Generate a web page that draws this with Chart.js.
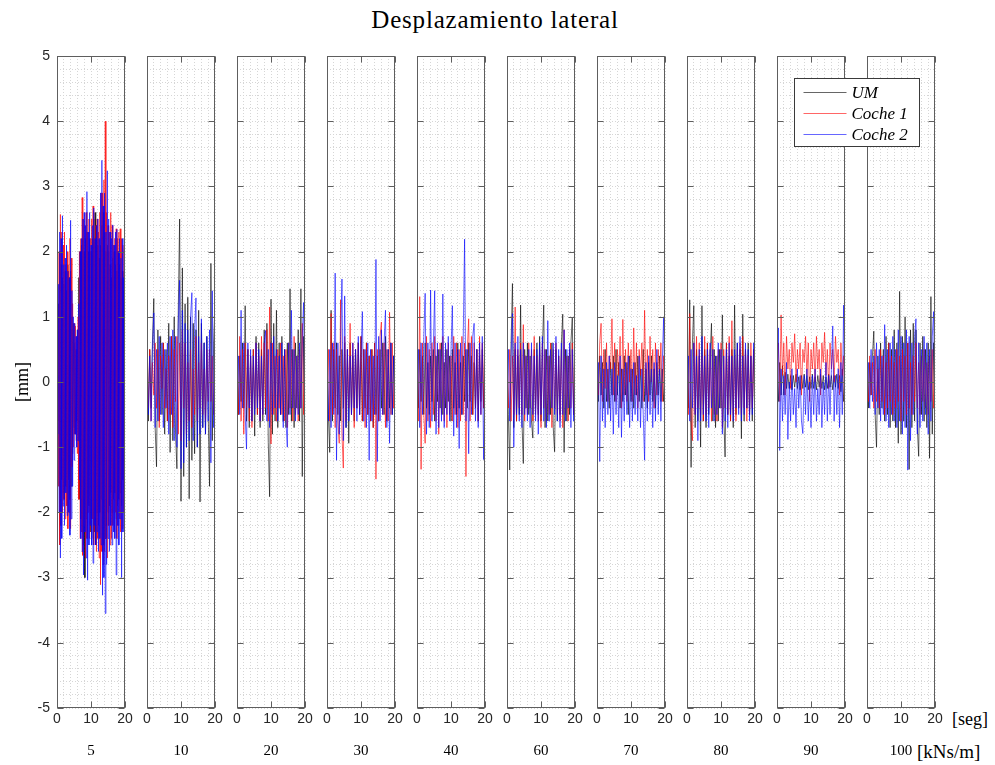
<!DOCTYPE html>
<html>
<head>
<meta charset="utf-8">
<title>Desplazamiento lateral</title>
<script src="https://cdn.jsdelivr.net/npm/chart.js@4.4.0/dist/chart.umd.min.js"></script>
<style>
  body { margin: 0; background: #fff; width: 995px; height: 765px; position: relative; overflow: hidden; }
  canvas { position: absolute; top: 40px; }
  .txt { position: absolute; font-family: "Liberation Serif", "Times New Roman", serif; color: #000; white-space: nowrap; line-height: 1; }
</style>
</head>
<body>
<div class="txt" id="titulo" style="left:0; width:990px; top:7px; text-align:center; font-size:25px; letter-spacing:0.8px;">Desplazamiento lateral</div>
<div class="txt" style="left:952px; top:710px; font-size:18px;">[seg]</div>
<div class="txt" style="left:917px; top:742px; font-size:19px;">[kNs/m]</div>
<div id="paneles"></div>

<script>
// tiempo de simulacion [seg]
const tiempo = [0, 0.4, 0.8, 1.2, 1.6, 2, 2.4, 2.8, 3.2, 3.6,
  4, 4.4, 4.8, 5.2, 5.6, 6, 6.4, 6.8, 7.2, 7.6,
  8, 8.4, 8.8, 9.2, 9.6, 10, 10.4, 10.8, 11.2, 11.6,
  12, 12.4, 12.8, 13.2, 13.6, 14, 14.4, 14.8, 15.2, 15.6,
  16, 16.4, 16.8, 17.2, 17.6, 18, 18.4, 18.8, 19.2, 19.6, 20];

// el caso c = 5 se guardo con paso mas fino
const tiempo_fino = [0, 0.2, 0.4, 0.6, 0.8, 1, 1.2, 1.4, 1.6, 1.8,
  2, 2.2, 2.4, 2.6, 2.8, 3, 3.2, 3.4, 3.6, 3.8,
  4, 4.2, 4.4, 4.6, 4.8, 5, 5.2, 5.4, 5.6, 5.8,
  6, 6.2, 6.4, 6.6, 6.8, 7, 7.2, 7.4, 7.6, 7.8,
  8, 8.2, 8.4, 8.6, 8.8, 9, 9.2, 9.4, 9.6, 9.8,
  10, 10.2, 10.4, 10.6, 10.8, 11, 11.2, 11.4, 11.6, 11.8,
  12, 12.2, 12.4, 12.6, 12.8, 13, 13.2, 13.4, 13.6, 13.8,
  14, 14.2, 14.4, 14.6, 14.8, 15, 15.2, 15.4, 15.6, 15.8,
  16, 16.2, 16.4, 16.6, 16.8, 17, 17.2, 17.4, 17.6, 17.8,
  18, 18.2, 18.4, 18.6, 18.8, 19, 19.2, 19.4, 19.6, 19.8, 20];

// amortiguamiento lateral de cada caso [kNs/m]
const rigidez = ['5', '10', '20', '30', '40', '60', '70', '80', '90', '100'];
const nombres = ['UM', 'Coche 1', 'Coche 2'];

// desplazamiento lateral [mm], c = 5
const um_5 = [0.0, -0.6, 1.2, -1.6, 2.0, -2.2, 1.8, -1.5, 1.6, -1.7,
  1.5, -1.8, 1.7, -1.6, 1.4, -1.9, 1.8, -1.5, 1.6, -1.8,
  1.7, -1.6, 1.0, -1.1, 0.9, -0.7, 0.6, -0.8, 0.5, -0.6,
  0.8, -0.9, 1.6, -1.8, 2.0, -2.1, 2.1, -2.3, 2.2, -2.5,
  2.0, -3.0, 2.2, -2.1, 2.3, -2.4, 2.0, -1.9, 2.2, -2.3,
  2.0, -2.1, 2.2, -2.4, 2.5, -2.3, 2.6, -2.5, 2.4, -2.0,
  2.1, -2.2, 1.9, -2.0, 2.1, -1.8, 2.4, -2.6, 2.6, -2.5,
  2.3, -2.4, 2.0, -2.2, 2.1, -2.0, 2.0, -1.9, 1.8, -1.7,
  1.6, -2.0, 1.9, -1.8, 2.0, -1.7, 1.8, -2.1, 1.7, -1.9,
  2.0, -1.8, 1.8, -1.7, 1.6, -1.9, 1.7, -1.5, 1.4, -1.3, -1.2];
const c1_5 = [-0.2, 0.9, -1.6, 2.0, -2.5, 2.57, -2.2, 2.3, -2.0, 2.1,
  -1.8, 2.3, -2.1, 1.8, -1.9, 2.0, -2.25, 1.7, -2.0, 2.2,
  -2.25, 1.9, -1.3, 1.2, -1.0, 0.9, -0.8, 0.86, -0.9, 0.7,
  -1.1, 1.0, -1.8, 2.0, -2.4, 2.2, -2.3, 2.83, -2.66, 2.5,
  -2.2, 2.4, -2.7, 2.6, -2.4, 2.3, -2.0, 2.5, -2.4, 2.2,
  -2.3, 2.5, -2.1, 2.7, -2.5, 2.2, -2.3, 2.4, -2.6, 2.5,
  -2.4, 2.3, -2.7, 2.6, -3.11, 2.9, -2.6, 2.9, -2.8, 3.1,
  -2.6, 4.0, -2.4, 2.6, -2.7, 2.4, -2.2, 2.3, -2.5, 2.6,
  -2.4, 2.4, -2.2, 2.1, -2.3, 2.2, -2.0, 2.35, -2.4, 2.2,
  -2.2, 2.3, -2.1, 2.35, -2.3, 2.2, -2.25, 2.1, -2.0, 2.05, -1.8];
const c2_5 = [0.1, -0.8, 1.5, -2.0, 2.3, -2.7, 2.2, -2.4, 2.55, -1.9,
  1.8, -2.2, 1.9, -1.7, 2.1, -2.05, 1.7, -2.0, 1.6, -2.35,
  2.48, -2.1, 1.4, -1.6, 1.0, -1.2, 0.9, -0.8, 0.7, -1.0,
  0.8, -0.9, 1.2, -1.5, 2.0, -2.4, 2.2, -2.6, 2.5, -2.96,
  2.6, -2.3, 2.4, -2.7, 2.92, -3.04, 2.3, -2.5, 2.6, -2.2,
  2.1, -2.5, 2.4, -2.78, 2.67, -2.2, 2.2, -2.5, 2.4, -2.3,
  2.5, -2.6, 2.2, -2.4, 2.9, -2.5, 3.4, -3.27, 2.7, -3.0,
  2.9, -3.55, 2.3, -2.8, 3.24, -2.4, 2.5, -2.6, 2.3, -2.2,
  2.2, -2.5, 2.41, -2.3, 2.1, -2.4, 2.3, -2.96, 2.34, -2.2,
  2.0, -2.5, 2.2, -2.1, 1.9, -3.0, 2.2, -2.3, 1.6, -1.65, 1.4];

// c = 10
const um_10 = [0.7, -0.6, 0.5, -0.4, 0.6, 1.28, -0.7, -1.3, 0.8, -0.6,
  0.7, -0.5, 0.6, -0.8, 0.5, -0.6, 0.9, -1.08, 0.7, -0.9,
  1.0, -0.8, -1.33, 1.1, 2.5, -1.83, 1.75, -1.45, 1.2, -1.0,
  1.3, -1.79, 1.0, -1.2, 0.9, -1.1, 0.8, -1.0, 1.1, -1.84,
  0.9, -0.7, 0.6, -0.8, 0.7, -0.5, -1.6, 1.82, -0.9, 0.6, 1.2];
const c1_10 = [0.2, -0.4, 0.5, -0.6, 0.3, -0.2, 0.6, -0.4, 0.5, -0.7,
  0.4, -0.1, 0.6, -0.4, 0.2, -0.6, 0.4, -0.5, 0.7, -0.7,
  0.5, -0.3, 0.7, -0.8, 0.6, -0.9, 0.8, -0.4, 0.6, -0.8,
  0.3, -0.6, 0.5, -0.7, 0.2, -0.5, 0.7, -0.6, 0.3, -0.4,
  0.6, -0.5, 0.2, -0.6, 0.5, -0.3, 0.5, -0.3, 0.4, -0.5, 0.3];
const c2_10 = [0.3, -0.5, 0.4, -0.6, 0.5, 1.06, -0.7, 0.5, -0.6, 0.7,
  -0.5, 0.6, -0.7, 0.5, -0.4, 0.6, -0.8, 0.7, -0.5, 0.8,
  -0.9, 0.7, -1.0, 0.9, 1.56, -1.33, 1.1, -1.24, 0.9, -1.0,
  0.8, -0.9, 1.0, 1.37, -0.9, 0.8, 1.29, -1.0, 0.7, -0.8,
  0.97, -0.7, 0.6, -0.8, 0.7, -0.6, 0.8, -1.24, 1.4, -0.7, 0.9];

// c = 20
const um_20 = [0.3, -0.5, 0.4, -0.3, 0.6, -0.4, 1.17, -0.6, 0.5, -0.7,
  0.4, -0.6, 0.5, -0.83, 0.7, -0.5, 0.6, -0.7, 0.5, -0.6,
  0.8, -0.5, 0.9, -0.93, -1.76, 1.27, -0.8, 0.9, -0.6, 1.1,
  -0.7, 0.6, -0.5, 0.7, -0.6, 0.5, -0.7, 0.6, -0.5, 1.43,
  -0.6, 0.5, -0.7, 0.6, -0.4, 0.8, -0.6, 1.43, -1.45, 0.7, -0.5];
const c1_20 = [0.3, -0.5, 0.7, -0.6, 0.5, -0.8, 0.6, -0.4, 0.5, -0.6,
  0.4, -0.7, 0.5, -0.4, 0.6, -0.5, 0.4, -0.6, 0.7, -0.5,
  0.6, -0.4, 0.8, -0.6, 1.15, -0.95, 0.6, -0.5, 0.4, -0.6,
  0.5, -0.4, 0.6, -0.5, 0.4, -0.6, 0.5, -0.7, 0.6, -0.4,
  0.5, -0.6, 0.7, -0.5, 0.4, -0.6, 0.5, -0.4, 0.9, -0.5, 0.6];
const c2_20 = [-0.2, 0.4, -0.5, 1.1, -0.4, 0.6, -0.5, -1.03, 0.6, -0.4,
  0.5, -0.6, 0.4, -0.5, 0.6, -0.4, 0.5, -0.6, 0.4, -0.5,
  0.6, 0.79, -0.6, 0.5, -0.7, 0.6, -0.5, 0.7, -0.4, 0.5,
  -0.6, 0.4, -0.5, 0.6, -0.7, 0.5, -0.6, -1.0, 0.6, -0.5,
  1.1, -0.4, 0.5, -0.6, 0.4, -0.5, 0.6, -0.4, 0.7, 1.22, -1.07];

// c = 30
const um_30 = [0.4, -0.5, -1.08, 1.1, -0.6, 0.5, -0.4, 0.6, -0.5, 0.4,
  -0.6, 0.5, -0.4, 0.6, -0.7, 0.5, -0.94, 0.6, -0.5, 0.4,
  -0.6, 0.5, -0.4, 0.6, -0.5, 0.7, -0.6, 0.5, -0.4, 0.6,
  -0.5, 0.4, -0.6, 0.5, -0.7, 0.6, -0.5, 0.4, -0.6, 0.5,
  -0.4, 0.6, -0.5, 0.7, -0.6, 0.5, -0.4, 0.6, -0.5, 0.4, -0.3];
const c1_30 = [-0.2, 0.5, -0.6, 1.05, -0.5, 0.6, -0.7, 0.5, -0.6, -0.94,
  1.26, -0.8, -1.32, 0.7, -0.6, 0.5, -0.4, 0.9, -0.5, 0.6,
  -0.7, 0.5, -0.4, 0.6, -0.5, 0.7, -0.6, 0.5, -0.7, 0.6,
  -0.5, 0.4, -0.6, 0.5, -0.7, 0.6, -1.49, 0.5, -0.6, 0.7,
  0.92, -0.5, 0.6, -0.7, 0.5, -0.6, 1.07, -0.5, 0.6, -0.4, 0.3];
const c2_30 = [0.2, -0.6, 0.5, -0.7, 0.6, -0.5, 1.67, -1.2, 0.6, -0.8,
  0.7, 1.58, -0.9, 1.32, -0.7, 0.5, -0.6, 0.4, -0.5, 0.6,
  -0.4, 0.5, -0.6, 0.7, -0.5, 0.4, 1.08, -0.6, 0.5, -0.7,
  0.6, -1.2, 0.5, -0.6, 0.4, -0.5, 1.88, -1.22, 0.7, -0.6,
  0.8, -0.5, 0.6, 1.1, -0.7, 0.5, -0.94, 0.6, -0.5, 0.4, -0.3];

// c = 40
const um_40 = [0.3, -0.4, 0.5, -0.3, 0.4, -0.5, 0.6, -0.4, 0.3, -0.5,
  0.4, -0.3, 0.5, -0.6, 0.4, -0.3, 0.5, -0.4, 0.6, -0.5,
  0.3, -0.4, 0.5, -0.3, 0.4, -0.6, 0.5, -0.4, 0.3, -0.5,
  0.6, -0.4, 0.3, -0.5, 0.4, -0.3, 0.5, -0.4, 0.6, -0.3,
  0.4, -0.5, 0.3, -0.4, 0.5, -0.6, 0.4, -0.3, 0.5, -0.4, 0.3];
const c1_40 = [0.2, -0.6, 1.31, -1.34, 0.6, -0.5, -0.94, 0.7, -0.6, 0.5,
  -0.7, 0.6, -0.5, 0.7, -0.6, 0.5, -0.8, 0.6, -0.5, 0.7,
  -0.6, 0.5, -0.7, 0.6, -0.5, 0.4, -0.6, 0.7, -0.5, 0.6,
  -0.7, 0.5, -0.6, 0.7, -0.5, 0.6, -1.45, 0.5, 0.97, -0.6,
  0.7, -0.5, 0.6, -0.4, 0.5, -0.6, 0.7, -0.5, 0.6, -0.4, 1.29];
const c2_40 = [-0.1, 0.5, -0.7, 0.6, -0.5, 0.7, 1.36, -0.8, 0.6, -0.7,
  1.41, -0.6, 0.5, 1.4, -0.8, 0.6, -0.7, 0.5, -0.6, 1.35,
  -0.7, 0.6, -0.5, 0.7, -0.6, 0.5, 1.17, -0.83, 0.6, -0.7,
  0.5, -1.02, 0.6, -0.5, 0.7, 2.19, -0.6, 0.5, -1.1, 0.6,
  -0.5, 0.7, 0.9, -0.6, 0.5, -0.7, 0.6, -0.5, 0.7, -1.19, 0.4];

// c = 60
const um_60 = [0.3, -0.5, -1.35, 0.6, 1.51, -0.7, 0.5, -0.6, 0.4, -0.5,
  1.18, -0.6, -1.25, 0.5, -0.4, 0.6, -0.5, 0.4, -0.6, -0.86,
  0.5, -0.4, 0.6, -0.5, 0.7, -0.6, 0.5, 1.18, -0.7, 0.5,
  -0.6, 0.4, -0.5, 0.6, -0.7, -1.07, 0.5, -0.6, 0.4, -0.5,
  0.6, 1.04, -1.08, 0.5, -0.6, 0.4, -0.5, 0.6, 0.98, -0.5, 0.3];
const c1_60 = [0.1, -0.4, 0.5, -0.6, 0.4, -0.5, 1.15, -0.6, 0.5, -0.4,
  0.6, -0.5, 0.88, -0.6, 0.4, -0.5, 0.6, -0.4, 0.5, -0.6,
  0.7, -0.5, 0.4, -0.6, 0.5, -0.7, 0.6, -0.4, 0.5, -0.6,
  0.4, -0.5, 0.6, -0.7, 0.5, -0.4, 0.6, -0.5, 0.4, -0.6,
  0.5, -0.7, 0.8, -0.5, 0.4, -0.6, 0.5, -0.4, 0.6, -0.5, 0.7];
const c2_60 = [-0.2, 0.5, -0.6, 0.4, 1.05, -1.0, 0.6, -0.5, 0.7, -0.6,
  0.5, -0.7, 0.6, -0.5, 0.4, -0.6, 0.5, -0.7, 0.6, -0.5,
  0.4, -0.6, 0.5, -0.8, 0.6, -0.5, 0.7, -0.6, 0.5, -0.7,
  0.94, -0.6, 0.5, -0.4, 0.6, -0.5, 0.7, -0.6, 0.5, -0.7,
  0.6, -0.5, 0.8, -0.6, 0.5, -0.4, 0.6, -0.7, 0.5, -0.6, 0.4];

// c = 70
const um_70 = [0.2, -0.3, 0.4, -0.2, 0.3, -0.4, 0.5, -0.3, 0.2, -0.4,
  0.3, -0.2, 0.4, -0.3, 0.5, -0.2, 0.3, -0.4, 0.2, -0.3,
  0.4, -0.2, 0.3, -0.5, 0.4, -0.3, 0.2, -0.4, 0.3, -0.2,
  0.4, -0.3, 0.2, -0.4, 0.5, -0.3, 0.2, -0.4, 0.3, -0.2,
  0.4, -0.3, 0.2, -0.4, 0.3, -0.2, 0.4, -0.3, 0.2, -0.3, 0.1];
const c1_70 = [0.3, -0.2, 0.6, 0.9, -0.3, 0.5, -0.1, 0.6, -0.3, 0.4,
  0.2, 0.97, -0.2, 0.6, -0.3, 0.5, 0.1, 0.7, -0.4, 0.96,
  -0.2, 0.5, -0.3, 0.6, 0.0, 0.5, -0.3, 0.83, -0.2, 0.6,
  -0.4, 0.5, 0.1, 0.6, -0.3, 1.1, -0.2, 0.5, -0.3, 0.7,
  0.0, 0.5, -0.4, 0.6, -0.2, 0.5, 0.1, 0.6, -0.3, 0.4, -0.93];
const c2_70 = [-0.1, 0.3, -1.22, 0.4, -0.6, 0.2, -0.7, 0.3, -0.5, 0.4,
  -0.6, 0.2, -0.8, 0.3, -0.5, 0.1, -0.7, 0.4, -0.85, 0.2,
  -0.6, 0.3, -0.5, 0.4, -0.7, 0.2, -0.6, 0.3, -0.5, 0.1,
  -0.6, 0.4, -0.7, 0.2, -0.5, -1.2, 0.3, -0.6, 0.4, -0.5,
  0.2, -0.7, 0.3, -0.6, 0.5, -0.5, 0.2, -0.6, 0.3, 0.98, -0.4];

// c = 80
const um_80 = [0.1, -0.4, 1.26, -1.31, 0.6, 1.17, -0.7, 0.5, -0.6, 0.4,
  -1.0, 1.17, -0.6, 0.5, -0.7, 0.6, -0.5, 0.4, 0.9, -0.6,
  0.5, -0.7, 0.4, -0.6, 0.5, -0.4, 1.03, -0.5, -1.15, 0.6,
  -0.5, 0.4, -0.6, 0.5, -0.7, 1.18, -0.5, 0.6, -0.4, 0.5,
  -0.87, 1.04, -0.6, 0.5, -0.4, 0.6, -0.5, 0.4, -0.6, 0.5, -0.3];
const c1_80 = [0.2, -0.5, 1.05, -0.6, -0.9, 0.6, -0.5, 0.7, -0.4, 0.6,
  -0.5, 0.4, -0.6, 0.7, -0.5, 0.6, -0.4, 0.5, -0.6, 0.7,
  -0.5, 0.4, -0.6, 0.5, -0.4, 0.6, -0.7, 0.5, -0.4, 0.6,
  -0.5, 0.7, -0.6, 0.94, -0.5, 0.4, -0.6, 0.5, -0.4, 0.6,
  -0.5, 0.7, -0.4, 0.5, -0.6, 0.4, -0.5, 0.6, -0.4, 0.5, -0.8];
const c2_80 = [-0.1, 0.4, -0.6, 0.5, -0.4, 0.6, -0.5, 0.4, -0.9, 0.5,
  -0.6, 0.7, -0.5, 0.4, -0.6, 0.5, -0.7, 0.6, -0.4, 0.5,
  -0.6, 0.4, -0.5, 0.6, -0.4, 0.5, -0.8, 0.4, -0.6, 0.5,
  -0.7, 0.6, -0.5, 0.4, -0.6, 0.5, -0.4, 0.6, -0.5, 0.7,
  -0.6, 0.4, -0.5, 0.6, -0.4, 0.5, -0.6, 0.4, -0.5, 0.6, -0.3];

// c = 90
const um_90 = [0.2, -0.3, 0.3, -0.2, 0.25, -0.2, 0.15, -0.1, 0.12, -0.1,
  0.1, -0.12, 0.1, -0.08, 0.12, -0.1, 0.08, -0.12, 0.1, -0.1,
  0.12, -0.08, 0.1, -0.12, 0.08, -0.1, 0.12, -0.1, 0.08, -0.12,
  0.1, -0.08, 0.12, -0.1, 0.1, -0.12, 0.08, -0.1, 0.12, -0.08,
  0.1, -0.12, 0.1, -0.08, 0.12, -0.1, 0.1, -0.15, 0.2, -0.3, 0.1];
const c1_90 = [0.2, 0.6, -0.3, 1.03, 0.1, 0.6, -0.2, 0.7, 0.2, 0.5,
  -0.1, 0.6, 0.3, 0.74, 0.0, 0.5, 0.2, 0.6, -0.2, 0.5,
  0.3, 0.7, 0.1, 0.6, -0.3, 0.5, 0.2, 0.6, 0.0, 0.7,
  0.2, 0.5, -0.2, 0.6, 0.3, 0.76, 0.1, 0.5, -0.1, 0.6,
  0.2, 0.5, 0.0, 0.7, 0.3, 0.5, -0.2, 0.6, 0.1, 0.4, -1.02];
const c2_90 = [-0.1, 0.83, -1.05, 0.2, -0.6, 0.1, -0.5, 0.3, -0.88, 0.0,
  -0.6, 0.2, -0.5, -0.1, -0.7, 0.2, -0.4, 0.1, -0.6, -0.79,
  0.1, -0.5, 0.2, -0.6, 0.0, -0.7, 0.1, -0.5, 0.2, -0.6,
  -0.1, -0.5, 0.2, -0.7, 0.0, -0.5, 0.3, -0.6, 0.1, -0.5,
  0.2, 0.86, -0.6, 0.1, -0.5, 0.2, -0.7, 0.3, -0.5, 1.18, -0.6];

// c = 100
const um_100 = [0.5, -0.4, 0.3, -0.2, 0.4, 0.78, -0.5, -1.0, 0.4, -0.5,
  0.6, -0.4, 0.5, -0.6, 0.7, -0.5, 0.6, -0.7, 0.5, -0.6,
  0.8, -0.7, 0.6, -0.94, 1.39, -0.8, 0.7, -0.6, 1.0, -0.7,
  0.6, -1.34, 0.8, -0.7, 0.9, -0.6, 0.8, -0.7, -1.14, 0.6,
  -0.5, 0.7, -0.6, 0.5, -0.7, 0.6, -1.17, 1.31, -0.8, 0.6, -0.5];
const c1_100 = [0.1, -0.3, 0.4, -0.2, 0.3, -0.4, 0.5, -0.3, 0.2, -0.4,
  0.5, -0.3, 0.4, -0.5, 0.3, -0.4, 0.6, -0.3, 0.4, -0.5,
  0.3, -0.4, 0.5, -0.3, 0.4, -0.6, 0.5, -0.3, 0.4, -0.5,
  0.6, -0.4, 0.3, -0.5, 0.4, -0.3, 0.6, -0.4, 0.3, -0.5,
  0.4, -0.3, 0.5, -0.4, 0.3, -0.5, 0.4, -0.3, 0.5, -0.4, 0.3];
const c2_100 = [-0.2, 0.3, -0.4, 0.5, -0.3, 0.4, -0.5, 0.6, -0.4, 0.5,
  -0.6, 0.4, -0.5, 0.88, -0.6, 0.5, -0.7, 0.6, -0.5, 0.7,
  -0.6, 0.5, -0.7, 0.8, -0.6, 0.7, -0.8, 0.6, -0.7, 0.8,
  -1.35, 0.7, -0.9, 0.6, -0.5, 0.7, 0.97, -0.8, 0.6, -0.7,
  0.5, -0.6, 0.7, -0.5, 0.6, -0.8, 0.5, -0.6, 0.7, 1.08, -0.7];

const casos = [
  [um_5, c1_5, c2_5], [um_10, c1_10, c2_10], [um_20, c1_20, c2_20],
  [um_30, c1_30, c2_30], [um_40, c1_40, c2_40], [um_60, c1_60, c2_60],
  [um_70, c1_70, c2_70], [um_80, c1_80, c2_80], [um_90, c1_90, c2_90],
  [um_100, c1_100, c2_100]
];
const tiempos = casos.map((c, k) => (k === 0 ? tiempo_fino : tiempo));

casos.forEach((c, k) => c.forEach((s, j) => {
  if (s.length !== tiempos[k].length) throw new Error('serie ' + rigidez[k] + '/' + j + ': ' + s.length);
}));

// estilo de las lineas (UM debajo, Coche 2 encima)
const colores = ['rgba(0, 0, 0, 0.6)', 'rgba(255, 0, 0, 0.6)', 'rgba(0, 0, 255, 0.6)'];
const capas = [3, 2, 1];

const anchoPanel = 68, pasoPanel = 90, x0Panel = 57;
const colorEje = '#5e5e5e';
const colorTexto = '#262626';

Chart.defaults.font.family = '"Liberation Sans", Arial, sans-serif';
Chart.defaults.font.size = 14;
Chart.defaults.color = colorTexto;

const esEntero = v => Math.abs(v - Math.round(v)) < 1e-6;

// caja de cada eje y marcas hacia dentro
const marco = {
  id: 'marco',
  afterDatasetsDraw(chart) {
    const { ctx, chartArea: a, scales: { x, y } } = chart;
    const L = a.left + 0.5, R = a.right - 0.5, T = a.top + 0.5, B = a.bottom - 0.5;
    ctx.save();
    ctx.strokeStyle = colorEje;
    ctx.lineWidth = 1;
    ctx.strokeRect(L, T, R - L, B - T);
    ctx.beginPath();
    y.ticks.forEach(t => {
      if (!esEntero(t.value)) return;
      const py = Math.round(y.getPixelForValue(t.value)) + 0.5;
      ctx.moveTo(L, py); ctx.lineTo(L + 6, py);
      ctx.moveTo(R, py); ctx.lineTo(R - 6, py);
    });
    x.ticks.forEach(t => {
      if (t.value % 10 !== 0) return;
      const px = Math.round(x.getPixelForValue(t.value)) + 0.5;
      ctx.moveTo(px, B); ctx.lineTo(px, B - 6);
      ctx.moveTo(px, T); ctx.lineTo(px, T + 6);
    });
    ctx.stroke();
    ctx.restore();
  }
};

// leyenda sobre los dos ultimos ejes
const leyenda = {
  id: 'leyenda',
  afterDraw(chart) {
    const { ctx, chartArea: a } = chart;
    const bx = a.left - 73 + 0.5, by = a.top + 22 + 0.5, w = 125, h = 68;
    ctx.save();
    ctx.fillStyle = '#fff';
    ctx.fillRect(bx, by, w, h);
    ctx.strokeStyle = '#3a3a3a';
    ctx.lineWidth = 1;
    ctx.strokeRect(bx, by, w, h);
    ctx.font = 'italic 17px "Liberation Serif", serif';
    ctx.textBaseline = 'middle';
    chart.data.datasets.forEach((ds, i) => {
      const yy = Math.round(by + 13 + i * 21) + 0.5;
      ctx.strokeStyle = ds.borderColor;
      ctx.beginPath();
      ctx.moveTo(bx + 9, yy);
      ctx.lineTo(bx + 52, yy);
      ctx.stroke();
      ctx.fillStyle = '#000';
      ctx.fillText(ds.label, bx + 57, yy + 1);
    });
    ctx.restore();
  }
};

const cont = document.getElementById('paneles');

casos.forEach((series, k) => {
  const primero = k === 0;
  const ultimo = k === casos.length - 1;
  const padIzq = primero ? 0 : (ultimo ? 80 : 12);
  const ejeY = primero ? 57 : 0;
  const padDer = 12;
  const t = tiempos[k];

  const canvas = document.createElement('canvas');
  const ancho = padIzq + ejeY + anchoPanel + padDer;
  canvas.width = ancho;
  canvas.height = 725;
  canvas.style.width = ancho + 'px';
  canvas.style.height = '725px';
  canvas.style.left = (x0Panel + pasoPanel * k - padIzq - ejeY) + 'px';
  cont.appendChild(canvas);

  new Chart(canvas, {
    type: 'line',
    data: {
      datasets: series.map((s, j) => ({
        label: nombres[j],
        data: s.map((v, i) => ({ x: t[i], y: v })),
        borderColor: colores[j],
        borderWidth: 1,
        pointRadius: 0,
        tension: 0,
        order: capas[j]
      }))
    },
    options: {
      responsive: false,
      animation: false,
      devicePixelRatio: 1,
      events: [],
      layout: { padding: { left: padIzq, right: padDer, top: 16, bottom: 0 } },
      plugins: { legend: { display: false }, tooltip: { enabled: false } },
      scales: {
        x: {
          type: 'linear',
          min: 0, max: 20,
          ticks: {
            stepSize: 2, autoSkip: false, maxRotation: 0, padding: 3,
            callback: v => (v % 10 === 0 ? String(v) : '')
          },
          grid: { color: '#d6d6d6', lineWidth: 1, drawTicks: false },
          border: { display: false, dash: [1, 2] },
          title: {
            display: true, text: rigidez[k], color: '#000',
            font: { family: '"Liberation Serif", serif', size: 15 },
            padding: { top: 0, bottom: 5 }
          },
          afterFit: s => { s.height = 57; }
        },
        y: {
          min: -5, max: 5,
          ticks: {
            display: primero, stepSize: 0.2, autoSkip: false, padding: 7,
            callback: v => (esEntero(v) ? String(Math.round(v)) : '')
          },
          grid: { color: '#d6d6d6', lineWidth: 1, drawTicks: false },
          border: { display: false, dash: [1, 2] },
          title: {
            display: primero, text: '[mm]', color: '#000',
            font: { family: '"Liberation Serif", serif', size: 18 },
            padding: { top: 12, bottom: 0 }
          },
          afterFit: s => { s.width = ejeY; }
        }
      }
    },
    plugins: ultimo ? [marco, leyenda] : [marco]
  });
});
</script>
</body>
</html>
